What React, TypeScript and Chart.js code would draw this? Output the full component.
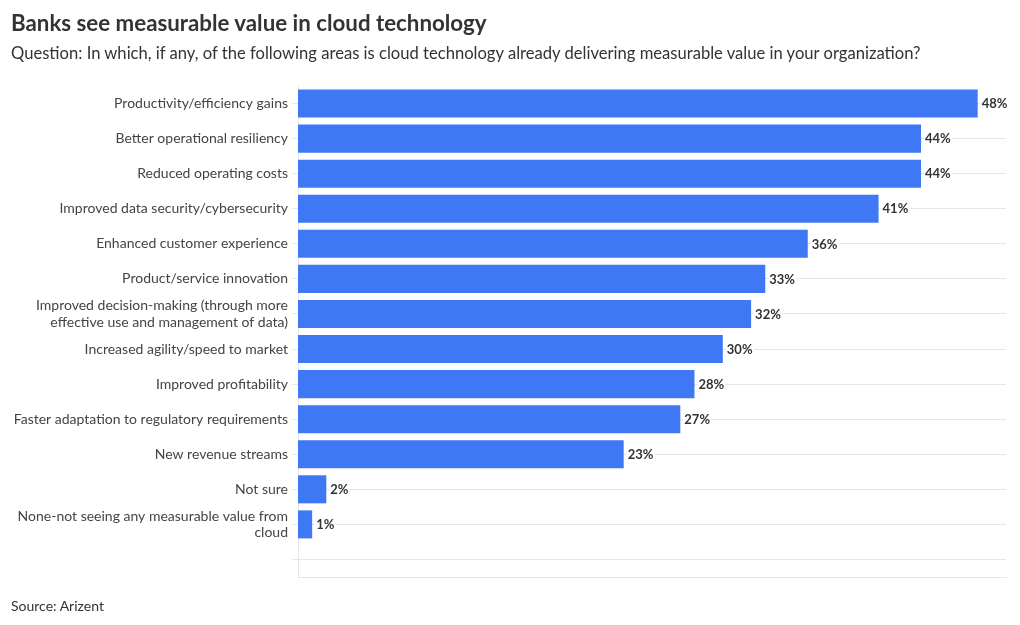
import React, { useEffect, useRef } from "react";
import { Chart, registerables } from "chart.js";

Chart.register(...registerables);

const TITLE = "Banks see measurable value in cloud technology";
const SUBTITLE =
  "Question: In which, if any, of the following areas is cloud technology already delivering measurable value in your organization?";
const SOURCE = "Source: Arizent";

const categories: (string | string[])[] = [
  "Productivity/efficiency gains",
  "Better operational resiliency",
  "Reduced operating costs",
  "Improved data security/cybersecurity",
  "Enhanced customer experience",
  "Product/service innovation",
  ["Improved decision-making (through more", "effective use and management of data)"],
  "Increased agility/speed to market",
  "Improved profitability",
  "Faster adaptation to regulatory requirements",
  "New revenue streams",
  "Not sure",
  ["None-not seeing any measurable value from", "cloud"],
  "",
];

const values: number[] = [48, 44, 44, 41, 36, 33, 32, 30, 28, 27, 23, 2, 1];

const xMin = 0;
const xMax = 50;

const FONT = "Lato, 'Noto Sans', sans-serif";
const BAR_COLOR = "#3f78f5";
const GRID_COLOR = "#e6e6e6";

const valueLabels = {
  id: "valueLabels",
  afterDatasetsDraw(chart: any) {
    const ctx = chart.ctx;
    const meta = chart.getDatasetMeta(0);
    ctx.save();
    ctx.font = `bold 13px ${FONT}`;
    ctx.textBaseline = "middle";
    ctx.textAlign = "left";
    meta.data.forEach((bar: any, i: number) => {
      const v = values[i];
      if (v === undefined || v === null) return;
      const text = `${v}%`;
      const x = bar.x + 4;
      const y = bar.y;
      const w = ctx.measureText(text).width;
      ctx.fillStyle = "#ffffff";
      ctx.fillRect(x - 1, y - 7, w + 2, 14);
      ctx.fillStyle = "#333333";
      ctx.fillText(text, x, y + 0.5);
    });
    ctx.restore();
  },
};

export default function App() {
  const canvasRef = useRef<HTMLCanvasElement | null>(null);

  useEffect(() => {
    if (!canvasRef.current) return;
    const chart = new Chart(canvasRef.current, {
      type: "bar",
      data: {
        labels: categories as any,
        datasets: [
          {
            data: values,
            backgroundColor: BAR_COLOR,
            borderWidth: 0,
            barPercentage: 0.8,
            categoryPercentage: 1,
          },
        ],
      },
      options: {
        indexAxis: "y",
        animation: false,
        responsive: false,
        maintainAspectRatio: false,
        layout: { padding: { top: 86, bottom: 48, left: 0, right: 14 } },
        plugins: {
          legend: { display: false },
          tooltip: { enabled: false },
          title: { display: false },
        },
        scales: {
          x: {
            type: "linear",
            min: xMin,
            max: xMax,
            ticks: { display: false },
            grid: { display: false },
            border: { display: true, color: GRID_COLOR, width: 1 },
            afterFit: (scale: any) => {
              scale.height = 0;
            },
          },
          y: {
            type: "category",
            offset: true,
            grid: {
              offset: false,
              color: GRID_COLOR,
              tickLength: 6,
              drawOnChartArea: true,
              drawTicks: true,
            },
            border: { display: true, color: GRID_COLOR, width: 1 },
            ticks: {
              color: "#444444",
              padding: 4,
              autoSkip: false,
              font: { family: FONT, size: 14, lineHeight: 1.15 },
            },
            afterFit: (scale: any) => {
              scale.width = 298;
            },
          },
        },
      },
      plugins: [valueLabels],
    });
    return () => chart.destroy();
  }, []);

  return (
    <div style={{ position: "absolute", left: 0, top: 0, width: 1020, height: 625, background: "#fff", fontFamily: FONT }}>
      <canvas
        ref={canvasRef}
        width={1020}
        height={625}
        style={{ position: "absolute", left: 0, top: 0, width: 1020, height: 625, display: "block" }}
      />
      <div style={{ position: "absolute", left: 11, top: 10, fontSize: 22.3, lineHeight: "26px", fontWeight: 700, color: "#333", whiteSpace: "nowrap" }}>
        {TITLE}
      </div>
      <div style={{ position: "absolute", left: 11, top: 43, fontSize: 16.6, lineHeight: "20px", color: "#333", whiteSpace: "nowrap" }}>
        {SUBTITLE}
      </div>
      <div style={{ position: "absolute", left: 11, top: 597, fontSize: 14, lineHeight: "18px", color: "#333", whiteSpace: "nowrap" }}>
        {SOURCE}
      </div>
    </div>
  );
}
